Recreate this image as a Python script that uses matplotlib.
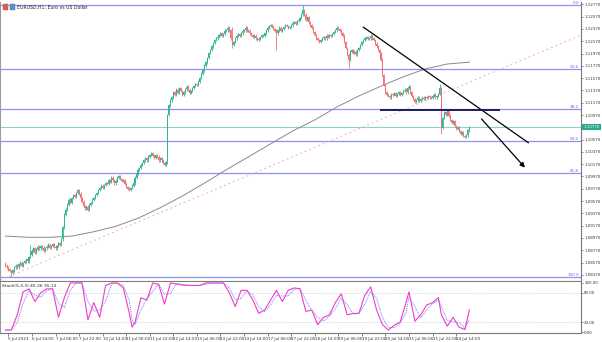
import matplotlib
matplotlib.use("Agg")
import matplotlib.pyplot as plt
import numpy as np
import pandas as pd
from matplotlib.patches import Rectangle

# ---------------- data ----------------
chart_title = "EURUSD,H1: Euro vs US Dollar"
stoch_title = "Stoch(5,3,3) 45.26 35.12"
first_bar_time = "2023-07-05 20:00"
last_bar_time = "2023-07-24 23:00"

first_open = 1.0855
close_prices = [
    1.0852, 1.0849, 1.0846, 1.0843, 1.0840, 1.0844, 1.0849, 1.0852, 1.0849, 1.0854, 1.0857, 1.0852, 1.0856, 1.0859, 1.0862, 1.0859, 1.0866, 1.0870,
    1.0876, 1.0880, 1.0873, 1.0878, 1.0883, 1.0880, 1.0884, 1.0881, 1.0876, 1.0880, 1.0883, 1.0886, 1.0881, 1.0884, 1.0887, 1.0883, 1.0880, 1.0884, 1.0888, 1.0886,
    1.0895, 1.0914, 1.0935, 1.0943,
    1.0951, 1.0959, 1.0954, 1.0962, 1.0967, 1.0964, 1.0970, 1.0975, 1.0969, 1.0962,
    1.0956, 1.0949, 1.0945, 1.0948, 1.0943, 1.0951, 1.0954, 1.0959, 1.0962, 1.0967,
    1.0970, 1.0975, 1.0978, 1.0982, 1.0978, 1.0983, 1.0986, 1.0985, 1.0991, 1.0988, 1.0995, 1.0991, 1.0986, 1.0990, 1.0995, 1.0998, 1.0993, 1.0990,
    1.0991, 1.0985, 1.0980, 1.0977, 1.0975, 1.0978, 1.0982, 1.0986, 1.0995, 1.1001, 1.1008, 1.1011, 1.1016, 1.1019, 1.1023, 1.1027, 1.1023, 1.1029, 1.1032, 1.1035, 1.1031, 1.1027, 1.1032, 1.1029, 1.1023,
    1.1027, 1.1023, 1.1019, 1.1016, 1.1020, 1.1097, 1.1113, 1.1121,
    1.1126, 1.1134, 1.1130, 1.1138, 1.1133, 1.1141, 1.1136, 1.1130, 1.1134, 1.1139, 1.1143, 1.1138, 1.1133, 1.1136, 1.1141, 1.1144, 1.1147,
    1.1146, 1.1151, 1.1157, 1.1164, 1.1170, 1.1177, 1.1183, 1.1190, 1.1198, 1.1203, 1.1209, 1.1214, 1.1219, 1.1222,
    1.1224, 1.1227, 1.1230, 1.1226, 1.1229, 1.1234, 1.1235, 1.1239, 1.1235, 1.1222, 1.1211,
    1.1216, 1.1222, 1.1226, 1.1229, 1.1226, 1.1230, 1.1234, 1.1235, 1.1239, 1.1235,
    1.1234, 1.1230, 1.1227, 1.1224, 1.1226, 1.1222, 1.1219, 1.1221, 1.1224, 1.1227, 1.1226, 1.1230, 1.1235, 1.1239, 1.1242, 1.1243,
    1.1240, 1.1237, 1.1234, 1.1230, 1.1235, 1.1239, 1.1234, 1.1237, 1.1240, 1.1243, 1.1242, 1.1239, 1.1240, 1.1243, 1.1247, 1.1248, 1.1245, 1.1250, 1.1252,
    1.1255, 1.1261, 1.1268, 1.1260, 1.1252, 1.1256, 1.1248, 1.1243, 1.1239, 1.1232, 1.1227, 1.1222, 1.1219, 1.1216,
    1.1219, 1.1222, 1.1224, 1.1222, 1.1226, 1.1224, 1.1227, 1.1226, 1.1229, 1.1232, 1.1235, 1.1239, 1.1237, 1.1234, 1.1230, 1.1226, 1.1216, 1.1206, 1.1195, 1.1187, 1.1200, 1.1203, 1.1198,
    1.1200, 1.1196, 1.1203, 1.1206, 1.1211, 1.1216, 1.1219, 1.1222, 1.1224, 1.1221, 1.1222, 1.1226, 1.1222,
    1.1219, 1.1213, 1.1209, 1.1203, 1.1198, 1.1187, 1.1162, 1.1146, 1.1134,
    1.1130, 1.1128, 1.1126, 1.1131, 1.1130, 1.1133, 1.1128, 1.1131, 1.1134, 1.1130, 1.1133, 1.1136, 1.1138, 1.1134,
    1.1141, 1.1143, 1.1134, 1.1128, 1.1123, 1.1118, 1.1121, 1.1125, 1.1120, 1.1123,
    1.1125, 1.1123, 1.1126, 1.1125, 1.1128, 1.1126, 1.1125, 1.1128, 1.1130, 1.1126, 1.1128, 1.1131, 1.1141,
    1.1076, 1.1092, 1.1102, 1.1097, 1.1105, 1.1096, 1.1089, 1.1084, 1.1087, 1.1079, 1.1074, 1.1077, 1.1071, 1.1066, 1.1068, 1.1063, 1.1061, 1.1064, 1.1072, 1.1077,
]
# notable wick extremes (bar index -> price)
spike_highs = {17: 1.0885, 41: 1.0946, 154: 1.1240, 202: 1.1276, 295: 1.1147}
spike_lows = {4: 1.0834, 154: 1.1206, 184: 1.1203, 233: 1.1174, 296: 1.1066, 312: 1.1059}

# 200-period moving average, one reading every 15 bars
ma200_every15 = [1.0900, 1.0898, 1.0898, 1.0900, 1.0907, 1.0916, 1.0929, 1.0946, 1.0965, 1.0986, 1.1008,
                 1.1029, 1.1050, 1.1071, 1.1089, 1.1110, 1.1128, 1.1144, 1.1159, 1.1172, 1.1180, 1.1183]

# stochastic %K readings (bar index, value)
stoch_bars = [0, 4, 8, 12, 16, 20, 24, 28, 32, 36, 40, 44, 48, 52, 56, 60, 64, 68, 72, 76, 80, 84, 86, 88,
              92, 96, 100, 104, 108, 112, 116, 120, 124, 128, 132, 136, 140, 144, 148, 152, 156, 160, 164,
              168, 172, 176, 180, 184, 188, 192, 196, 200, 204, 208, 212, 216, 220, 224, 228, 232, 236, 240,
              244, 248, 252, 256, 260, 264, 268, 272, 274, 278, 282, 286, 290, 294, 296, 300, 304, 308, 312, 315]
stoch_k = [4, 4, 35, 82, 88, 62, 80, 88, 88, 30, 70, 100, 100, 100, 25, 60, 30, 95, 100, 100, 90, 40, 10, 20,
           70, 65, 100, 97, 57, 100, 98, 96, 95, 95, 95, 100, 100, 100, 100, 80, 52, 85, 85,
           65, 38, 45, 65, 85, 62, 85, 90, 88, 42, 45, 15, 30, 35, 60, 78, 35, 38, 38,
           75, 92, 45, 15, 4, 14, 20, 60, 82, 22, 35, 55, 60, 70, 35, 12, 30, 10, 5, 45]
stoch_levels = [80, 20]
stoch_ticks = [100, 80, 20, 0]

# Fibonacci retracement
fib_high = 1.1276
fib_low = 1.08334
fib_levels = [0.0, 23.6, 38.2, 50.0, 61.8, 100.0]

# drawn objects (bar index, price)
trend_line = [(243, 1.1240), (355, 1.1052)]
support_line = [(255, 1.1105), (335, 1.1105)]
arrow_line = [(322, 1.1094), (354, 1.1008)]
pink_ray = [(4, 1.0836), (378, 1.1214)]

price_ticks = [1.1277 - 0.0020 * k for k in range(23)]

# ---------------- build ----------------
times = pd.date_range(first_bar_time, last_bar_time, freq="h")
times = times[times.dayofweek < 5]
n = len(close_prices)
idx = np.arange(n)
closes = np.array(close_prices)
opens = np.concatenate([[first_open], closes[:-1]])
wick = 0.00022
highs = np.maximum(opens, closes) + wick
lows = np.minimum(opens, closes) - wick
for k, v in spike_highs.items():
    highs[k] = max(highs[k], v)
for k, v in spike_lows.items():
    lows[k] = min(lows[k], v)

W, H = 602, 342
fig = plt.figure(figsize=(W / 100, H / 100), dpi=100)
fig.patch.set_facecolor("white")

def fx(px):
    return px / W

def fy(py):
    return 1 - py / H

ax = fig.add_axes([fx(0), fy(281), fx(581), fy(2) - fy(281)])
ax2 = fig.add_axes([fx(0), fy(333), fx(581), fy(282) - fy(333)])

up_c = "#2fb596"
dn_c = "#f07070"
col = np.where(closes >= opens, up_c, dn_c)

ax.vlines(idx, lows, highs, colors=col, linewidth=0.6, zorder=3)
body_bot = np.minimum(opens, closes)
body_h = np.maximum(np.abs(closes - opens), 0.00004)
ax.bar(idx, body_h, bottom=body_bot, width=0.75, color=col, linewidth=0, zorder=4)

# MA
ma_x = np.arange(0, n, 15)[: len(ma200_every15)]
ax.plot(ma_x, ma200_every15, color="#8a8a8a", lw=0.7, zorder=2)

# fib
fib_col = "#9191f2"
for lv in fib_levels:
    p = fib_high - (fib_high - fib_low) * lv / 100
    ax.axhline(p, color=fib_col, lw=0.9, zorder=1)
    ax.text(389.5, p + 0.00005, f"{lv:.1f}", color="#6a6ae0", fontsize=3.0,
            ha="right", va="bottom", zorder=6)

# current price line
last = closes[-1]
ax.axhline(last, color="#86d6c0", lw=0.8, zorder=1)

# pink dotted ray
ax.axline(pink_ray[0], pink_ray[1], color="#f4a6c8", lw=0.7, ls=(0, (2, 3)), zorder=1)

# trend lines
ax.plot(*zip(*trend_line), color="black", lw=0.9, zorder=7)
ax.plot(*zip(*support_line), color="#1c1c5e", lw=1.4, zorder=7)
ax.annotate("", xy=arrow_line[1], xytext=arrow_line[0],
            arrowprops=dict(arrowstyle="-|>", color="black", lw=0.9, mutation_scale=7), zorder=7)

x_lo, x_hi = -3.7, 390.8
ax.set_xlim(x_lo, x_hi)
ax.set_ylim(1.08269, 1.12809)
ax2.set_xlim(x_lo, x_hi)
ax2.set_ylim(-2.0, 102.0)

for a in (ax, ax2):
    a.set_facecolor("white")
    a.spines["top"].set_visible(False)
    a.spines["left"].set_color("#9a9a9a")
    a.spines["right"].set_color("#7a7a7a")
    a.spines["bottom"].set_color("#7a7a7a")
    for s in a.spines.values():
        s.set_linewidth(0.8)
    a.yaxis.tick_right()
    a.tick_params(axis="y", direction="out", length=1.5, width=0.5, colors="#555555",
                  labelsize=2.9, pad=0.8, labelcolor="#333333")
ax.set_xticks([])
ax.set_yticks(price_ticks)
last = closes[-1]
ax.set_yticklabels(["" if abs(p - last) < 0.0004 else f"{p:.5f}" for p in price_ticks])

# price tag
ax.text(1.004, last, f"{last:.5f}", transform=ax.get_yaxis_transform(), fontsize=2.9,
        color="white", ha="left", va="center", zorder=10,
        bbox=dict(boxstyle="square,pad=0.25", fc="#2aa88c", ec="none"), clip_on=False)

# stochastic
k_arr = np.array(stoch_k, dtype=float)
d_arr = pd.Series(k_arr).rolling(2, min_periods=1).mean().to_numpy()
ax2.plot(stoch_bars, k_arr, color="#f03cc8", lw=0.8, zorder=3)
ax2.plot(stoch_bars, d_arr, color="#6a7cff", lw=0.7, ls=(0, (1, 1)), zorder=2)
for lv in stoch_levels:
    ax2.axhline(lv, color="#b0b0b0", lw=0.5, ls=(0, (1, 2)))
ax2.set_yticks(stoch_ticks)
ax2.set_yticklabels([f"{t:.2f}" for t in stoch_ticks])
ax2.text(0.004, 0.97, stoch_title, transform=ax2.transAxes, fontsize=3.2, color="#222222",
         ha="left", va="top")

# time axis
tick_pos = list(range(2, n, 16))
labels = []
for j, p in enumerate(tick_pos):
    t = times[p]
    if j == 0:
        labels.append(f"{t.day} {t:%b} {t.year}")
    else:
        labels.append(f"{t.day} {t:%b} {t:%H:%M}")
ax2.set_xticks(tick_pos)
ax2.set_xticklabels(labels, ha="left")
ax2.tick_params(axis="x", direction="out", length=2, width=0.5, colors="#555555",
                labelsize=3.0, pad=1, labelcolor="#333333")

# title with two small icons
fig.add_artist(Rectangle((fx(3), fy(10)), fx(5), fy(4) - fy(10), transform=fig.transFigure,
                         fc="#e25a4a", ec="#7a7a7a", lw=0.3))
fig.add_artist(Rectangle((fx(10), fy(10)), fx(5), fy(4) - fy(10), transform=fig.transFigure,
                         fc="#5a8ee0", ec="#7a7a7a", lw=0.3))
fig.text(fx(17), fy(7), chart_title, fontsize=3.3, color="#222222", ha="left", va="center")

fig.savefig("out.png", dpi=100, facecolor="white")
